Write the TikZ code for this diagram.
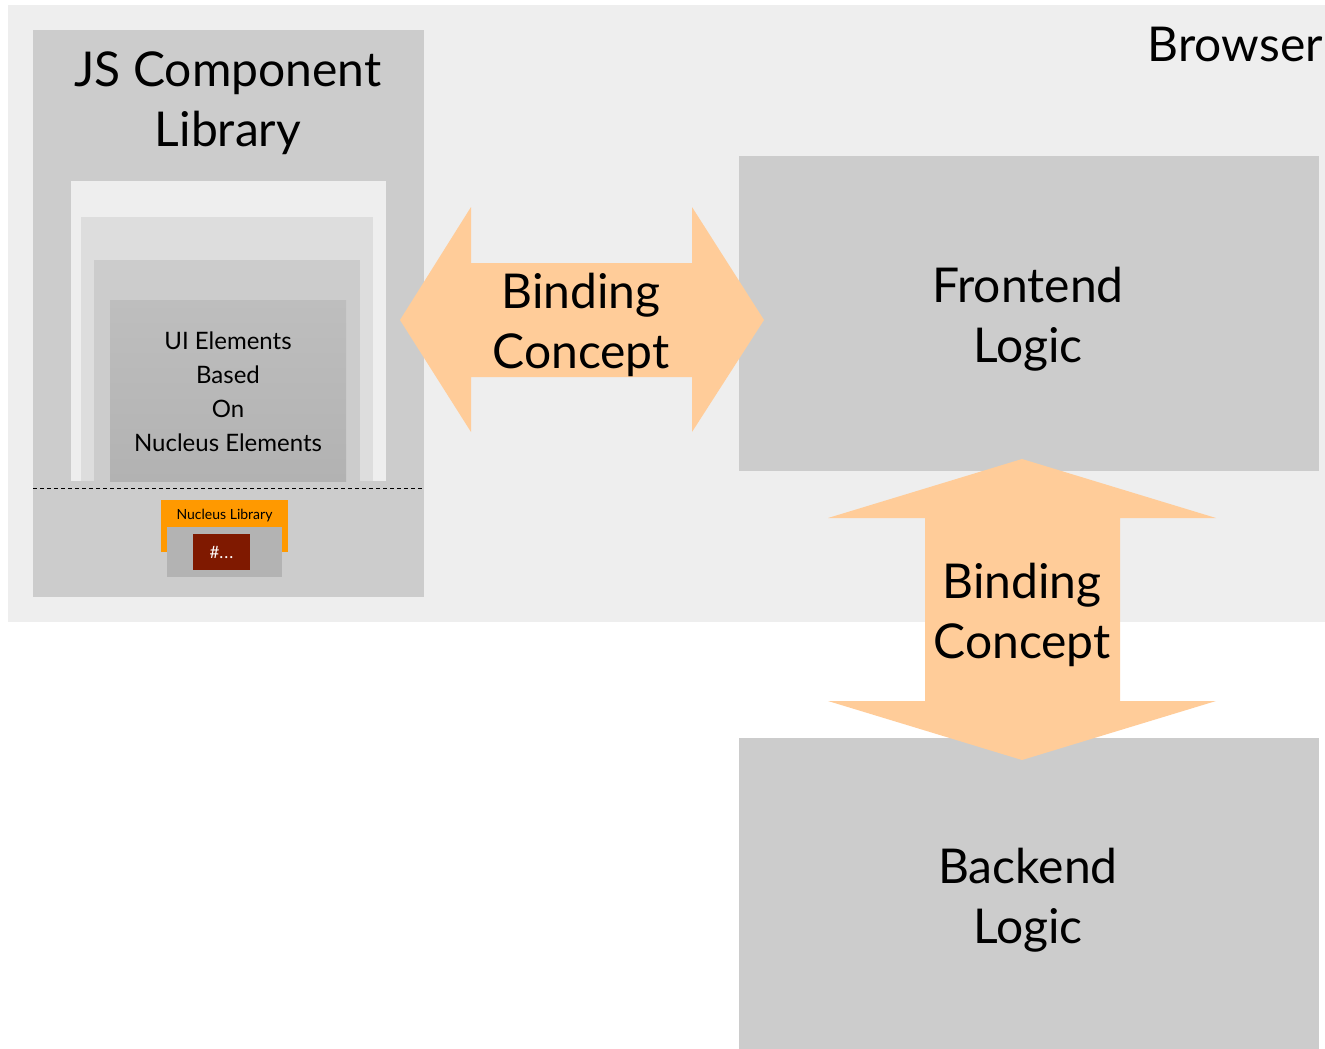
\documentclass[tikz,border=0pt]{standalone}
\usepackage{fontspec}
\setmainfont{Lato}
\definecolor{browserbg}{HTML}{EEEEEE}
\definecolor{boxgray}{HTML}{CCCCCC}
\definecolor{lvlA}{HTML}{EEEEEE}
\definecolor{lvlB}{HTML}{DDDDDD}
\definecolor{lvlC}{HTML}{CCCCCC}
\definecolor{lvlDtop}{HTML}{BEBEBE}
\definecolor{lvlDbot}{HTML}{B2B2B2}
\definecolor{arrowfill}{HTML}{FFCC99}
\definecolor{nucorange}{HTML}{FF9900}
\definecolor{nucgray}{HTML}{B3B3B3}
\definecolor{nucred}{HTML}{7F1900}
\tikzset{
  bigtext/.style={font=\fontsize{48}{60}\selectfont, align=center, text=black, inner sep=0pt},
  midtext/.style={font=\fontsize{24}{34}\selectfont, align=center, text=black, inner sep=0pt},
  blockarrow/.style={fill=arrowfill, draw=none},
  panel/.style={fill=boxgray, draw=none},
}
\begin{document}
\begin{tikzpicture}[x=1pt,y=-1pt]
\useasboundingbox (0,0) rectangle (1325,1049);
\fill[white] (0,0) rectangle (1325,1049);
% browser area
\fill[browserbg] (8,5) rectangle (1325,622);
\node[bigtext, anchor=north east] (browser) at (1323,27) {Browser};
% JS component library panel
\fill[boxgray] (33,30) rectangle (424,597);
\node[bigtext] (jslib) at (228,103) {JS Component\\Library};
\fill[lvlA] (71,181) rectangle (386,481);
\fill[lvlB] (81,217) rectangle (373,481);
\fill[lvlC] (94,260) rectangle (360,481);
\shade[top color=lvlDtop, bottom color=lvlDbot] (110,300) rectangle (346,481);
\node[midtext] (ui) at (228,392) {UI Elements\\Based\\On\\Nucleus Elements};
\draw[dashed, black, line width=0.8pt, dash pattern=on 4pt off 3pt] (33,488) -- (424,488);
% nucleus library
\fill[nucorange] (161,500) rectangle (288,552);
\node[font=\fontsize{14}{16}\selectfont, inner sep=0pt] (nuclib) at (224.5,516) {Nucleus Library};
\fill[nucgray] (167,527) rectangle (282,577);
\node[fill=nucred, minimum width=57pt, minimum height=36pt, inner sep=0pt, text=white, font=\fontsize{17}{18}\selectfont] (hash) at (221.5,552) {\#.\kern1pt.\kern1pt.};
% frontend & backend
\node[panel, minimum width=580pt, minimum height=315pt, inner sep=0pt, anchor=north west] (front) at (739,156) {};
\node[bigtext] (fronttext) at (1028,319) {Frontend\\Logic};
\node[panel, minimum width=580pt, minimum height=311pt, inner sep=0pt, anchor=north west] (back) at (739,738) {};
\node[bigtext] (backtext) at (1028,900) {Backend\\Logic};
% horizontal binding arrow
\coordinate (hL) at (400,320);
\coordinate (hR) at (764,320);
\fill[blockarrow] (hL) -- (471,207) -- (471,263) -- (692,263) -- (692,207) -- (hR) -- (692,432) -- (692,377) -- (471,377) -- (471,432) -- cycle;
\node[bigtext] (bind1) at (581,325) {Binding\\Concept};
% vertical binding arrow
\coordinate (vT) at (1022,459);
\coordinate (vB) at (1022,760);
\fill[blockarrow] (vT) -- (1216,518) -- (1120,518) -- (1120,701) -- (1216,701) -- (vB) -- (828,701) -- (925,701) -- (925,518) -- (828,518) -- cycle;
\node[bigtext] (bind2) at (1022,615) {Binding\\Concept};
\end{tikzpicture}
\end{document}
